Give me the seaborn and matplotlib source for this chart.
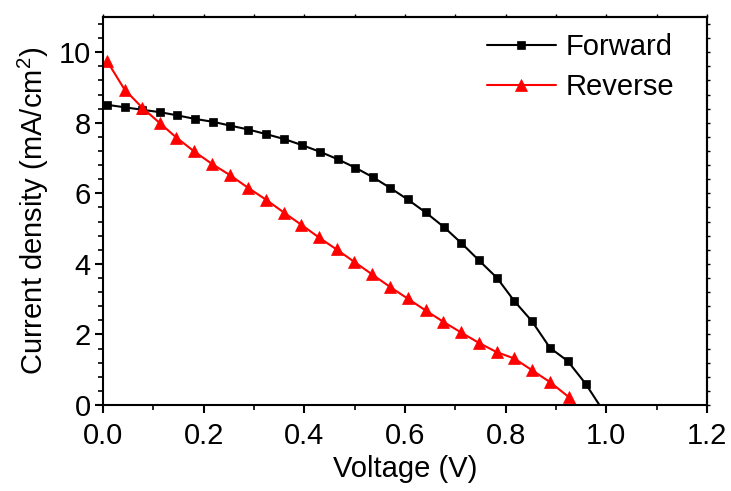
import matplotlib
matplotlib.use("Agg")
import matplotlib.pyplot as plt
import seaborn as sns
import pandas as pd
from matplotlib.ticker import MultipleLocator, FormatStrFormatter, NullFormatter

# ---- data ----
fwd_v = [0.0085, 0.043, 0.078, 0.114, 0.148, 0.183, 0.218, 0.253, 0.289, 0.324,
         0.360, 0.395, 0.431, 0.466, 0.501, 0.536, 0.570, 0.605, 0.641, 0.677,
         0.712, 0.747, 0.783, 0.817, 0.852, 0.888, 0.923, 0.959, 0.994]
fwd_j = [8.51, 8.44, 8.37, 8.30, 8.21, 8.11, 8.03, 7.92, 7.81, 7.68,
         7.54, 7.37, 7.18, 6.97, 6.73, 6.46, 6.16, 5.83, 5.46, 5.05,
         4.59, 4.10, 3.60, 2.95, 2.38, 1.62, 1.25, 0.60, -0.17]
rev_v = [0.0085, 0.043, 0.078, 0.113, 0.146, 0.181, 0.217, 0.253, 0.289, 0.324,
         0.360, 0.394, 0.429, 0.464, 0.499, 0.534, 0.570, 0.605, 0.641, 0.676,
         0.711, 0.747, 0.782, 0.817, 0.853, 0.888, 0.925, 0.959]
rev_j = [9.74, 8.94, 8.43, 7.99, 7.58, 7.19, 6.83, 6.51, 6.15, 5.82,
         5.45, 5.11, 4.75, 4.41, 4.06, 3.71, 3.35, 3.02, 2.68, 2.36,
         2.06, 1.76, 1.50, 1.32, 0.98, 0.65, 0.23, -0.34]
series_names = ["Forward", "Reverse"]
x_label = "Voltage (V)"
y_label = "Current density (mA/cm$^2$)"

sns.set_style("ticks")
plt.rcParams["font.family"] = ["Liberation Sans", "DejaVu Sans"]
plt.rcParams["mathtext.default"] = "regular"
plt.rcParams["text.color"] = "black"
plt.rcParams["axes.labelcolor"] = "black"
plt.rcParams["xtick.color"] = "black"
plt.rcParams["ytick.color"] = "black"

fig = plt.figure(figsize=(7.31, 4.91), dpi=100)
ax = fig.add_axes([103 / 731, 1 - 405 / 491, (707 - 103) / 731, (405 - 17) / 491])

df_f = pd.DataFrame({"V": fwd_v, "J": fwd_j})
df_r = pd.DataFrame({"V": rev_v, "J": rev_j})

sns.lineplot(data=df_f, x="V", y="J", ax=ax, color="black", marker="s",
             markersize=6.3, markeredgecolor="black", markeredgewidth=0.5,
             linewidth=1.5, label=series_names[0], sort=False)
sns.lineplot(data=df_r, x="V", y="J", ax=ax, color="#ff0000", marker="^",
             markersize=8.5, markeredgecolor="#ff0000", markeredgewidth=0.5,
             linewidth=1.5, label=series_names[1], sort=False)

ax.set_xlim(0, 1.2)
ax.set_ylim(0, 11)
ax.xaxis.set_major_locator(MultipleLocator(0.2))
ax.xaxis.set_minor_locator(MultipleLocator(0.1))
ax.yaxis.set_major_locator(MultipleLocator(2))
ax.yaxis.set_minor_locator(MultipleLocator(0.4))
ax.xaxis.set_major_formatter(FormatStrFormatter("%.1f"))

for s in ax.spines.values():
    s.set_linewidth(1.5)
    s.set_color("black")
    s.set_visible(True)

ax.tick_params(which="major", direction="out", length=6, width=1.5,
               labelsize=21, colors="black")
ax.tick_params(which="minor", direction="out", length=3.5, width=1.2, colors="black")
ax.tick_params(axis="x", which="major", pad=6)
ax.tick_params(axis="y", which="major", pad=3)

# small outward ticks on the top and right frame
top = ax.secondary_xaxis("top")
top.xaxis.set_major_locator(MultipleLocator(0.1))
top.xaxis.set_major_formatter(NullFormatter())
top.tick_params(direction="out", length=2.5, width=1.0, colors="black")
top.spines["top"].set_linewidth(1.5)
right = ax.secondary_yaxis("right")
right.yaxis.set_major_locator(MultipleLocator(0.4))
right.yaxis.set_major_formatter(NullFormatter())
right.tick_params(direction="out", length=2.5, width=1.0, colors="black")
right.spines["right"].set_linewidth(1.5)

ax.set_xlabel(x_label, fontsize=21, labelpad=4)
ax.set_ylabel(y_label, fontsize=21, labelpad=5)

leg = ax.legend(loc="upper left", bbox_to_anchor=((487 - 103) / 604, 1 - (33 - 17) / 388),
                frameon=False, fontsize=21, handlelength=2.35, handletextpad=0.35,
                labelspacing=0.42, borderpad=0, borderaxespad=0)

fig.savefig("out.png", dpi=100)
